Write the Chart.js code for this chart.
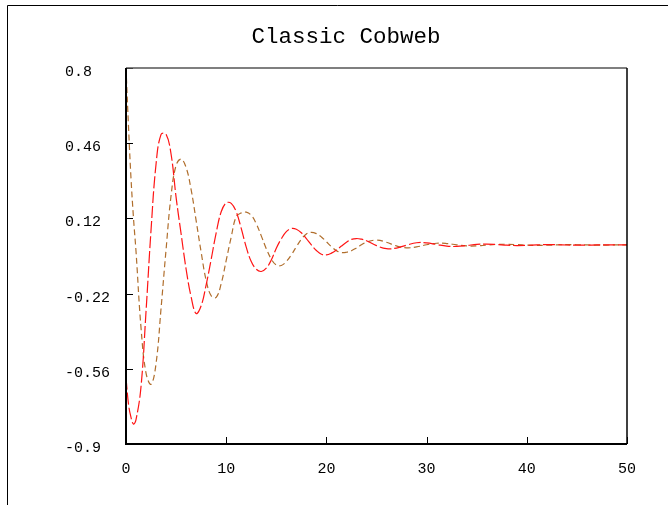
<!DOCTYPE html>
<html>
<head>
<meta charset="utf-8">
<title>Classic Cobweb</title>
<script src="https://cdn.jsdelivr.net/npm/chart.js@4.4.1/dist/chart.umd.min.js"></script>
<style>
  html, body { margin: 0; padding: 0; background: #fff; }
  #wrap { position: relative; width: 668px; height: 505px; }
</style>
</head>
<body>
<div id="wrap"><canvas id="cobweb" width="668" height="505"></canvas></div>
<script>
// time steps, finer at the start where both curves swing hardest
const steps = [0, 0.25, 0.5, 0.75, 1, 1.5, 2, 2.5, 3, 3.5, 4, 4.5, 5, 5.5, 6, 6.5, 7, 7.5, 8, 8.5,
  9, 9.5, 10, 10.5, 11, 11.5, 12, 12.5, 13, 13.5, 14, 14.5, 15, 15.5, 16, 16.5, 17, 17.5, 18, 18.5,
  19, 19.5, 20, 20.5, 21, 21.5, 22, 22.5, 23, 23.5, 24, 25, 26, 27, 28, 29, 30, 31, 32, 33, 34, 35,
  36, 37, 38, 39, 40, 41, 42, 43, 44, 45, 46, 47, 48, 49, 50];

// red, long dashes
const price = [-0.60, -0.72, -0.78, -0.81, -0.79, -0.64, -0.30, 0.068, 0.366, 0.50, 0.50, 0.41,
  0.215, 0.05, -0.11, -0.235, -0.31, -0.275, -0.18, -0.065, 0.055, 0.15, 0.19, 0.188, 0.15, 0.075,
  -0.01, -0.075, -0.11, -0.12, -0.105, -0.068, -0.015, 0.028, 0.06, 0.074, 0.071, 0.055, 0.029, 0.0,
  -0.025, -0.042, -0.045, -0.037, -0.023, -0.005, 0.012, 0.025, 0.029, 0.026, 0.019,
  -0.003, -0.017, -0.014, -0.001, 0.010, 0.0095, 0.002, -0.0055, -0.0066, -0.0026, 0.0024, 0.004,
  0.0019, -0.0012, -0.0027, -0.0017, 0.0003, 0.0016, 0.001, -0.0002, -0.001, -0.0008, 0.0, 0.0006,
  0.0005, 0.0];

// brown, short dashes
const quantity = [0.80, 0.535, 0.30, 0.12, -0.03, -0.375, -0.58, -0.63, -0.536, -0.286, -0.02, 0.224,
  0.36, 0.388, 0.35, 0.25, 0.11, -0.033, -0.16, -0.23, -0.237, -0.175, -0.07, 0.036, 0.128, 0.145,
  0.148, 0.134, 0.096, 0.041, -0.017, -0.064, -0.091, -0.093, -0.075, -0.045, -0.008, 0.026, 0.050,
  0.057, 0.051, 0.036, 0.0145, -0.008, -0.026, -0.0345, -0.033, -0.026, -0.0134, 0.0004, 0.0127,
  0.022, 0.012, -0.0045, -0.013, -0.0088, 0.001, 0.0077, 0.0063, 0.0005, -0.0044, -0.0044, -0.0008,
  0.0022, 0.003, 0.0015, -0.0008, -0.0018, -0.0012, 0.0003, 0.0011, 0.0009, 0.0, -0.0006, -0.0005,
  0.0001, 0.0003];

const xTicks = [0, 10, 20, 30, 40, 50];
const yTicks = [-0.9, -0.56, -0.22, 0.12, 0.46, 0.8];

const TICK_FONT = { family: 'Liberation Mono', size: 15 };

// page frame, plot box and inward tick marks
const framePlugin = {
  id: 'frame',
  beforeDraw(chart) {
    const ctx = chart.ctx;
    ctx.save();
    ctx.fillStyle = '#fff';
    ctx.fillRect(0, 0, chart.width, chart.height);
    ctx.strokeStyle = '#000';
    ctx.lineWidth = 1;
    ctx.beginPath();
    ctx.moveTo(7.5, chart.height);
    ctx.lineTo(7.5, 5.5);
    ctx.lineTo(chart.width, 5.5);
    ctx.stroke();
    ctx.restore();
  },
  afterDatasetsDraw(chart) {
    const { ctx, chartArea: a, scales } = chart;
    ctx.save();
    ctx.strokeStyle = '#000';
    ctx.lineWidth = 1;
    ctx.beginPath();
    yTicks.forEach(v => {
      const py = Math.round(scales.y.getPixelForValue(v)) + 0.5;
      ctx.moveTo(a.left, py);
      ctx.lineTo(a.left + 7, py);
    });
    xTicks.forEach(v => {
      const px = Math.round(scales.x.getPixelForValue(v)) + 0.5;
      ctx.moveTo(px, a.bottom);
      ctx.lineTo(px, a.bottom - 7);
    });
    ctx.stroke();

    ctx.strokeStyle = '#555';
    ctx.lineWidth = 1.5;
    ctx.beginPath();
    ctx.moveTo(a.left, a.top);
    ctx.lineTo(a.right, a.top);
    ctx.stroke();
    ctx.strokeStyle = '#000';
    ctx.beginPath();
    ctx.moveTo(a.right, a.top);
    ctx.lineTo(a.right, a.bottom);
    ctx.stroke();
    ctx.lineWidth = 2;
    ctx.beginPath();
    ctx.moveTo(a.left, a.top);
    ctx.lineTo(a.left, a.bottom);
    ctx.lineTo(a.right, a.bottom);
    ctx.stroke();
    ctx.restore();
  }
};

function toPoints(values) {
  return steps.map((t, i) => ({ x: t, y: values[i] }));
}

const chart = new Chart(document.getElementById('cobweb'), {
  type: 'line',
  data: {
    datasets: [
      {
        label: 'Price',
        data: toPoints(price),
        borderColor: '#ff1414',
        borderWidth: 1.2,
        borderDash: [12, 3],
        pointRadius: 0,
        tension: 0.4,
        fill: false
      },
      {
        label: 'Quantity',
        data: toPoints(quantity),
        borderColor: '#b06e2c',
        borderWidth: 1.2,
        borderDash: [6, 3.5],
        pointRadius: 0,
        tension: 0.4,
        fill: false
      }
    ]
  },
  options: {
    responsive: false,
    animation: false,
    layout: { padding: { left: 65, right: 41, top: 0, bottom: 0 } },
    plugins: {
      legend: { display: false },
      tooltip: { enabled: false },
      title: {
        display: true,
        text: 'Classic Cobweb',
        color: '#000',
        font: { family: 'Liberation Mono', size: 22.5, weight: 'normal' },
        padding: { top: 24, bottom: 17 }
      }
    },
    scales: {
      x: {
        type: 'linear',
        min: 0,
        max: 50,
        afterBuildTicks: s => { s.ticks = xTicks.map(v => ({ value: v })); },
        afterFit: s => { s.height = 61; },
        grid: { display: false },
        border: { display: false },
        ticks: {
          color: '#000',
          font: TICK_FONT,
          padding: 8,
          maxRotation: 0,
          autoSkip: false,
          callback: v => String(v)
        }
      },
      y: {
        type: 'linear',
        min: -0.9,
        max: 0.8,
        afterBuildTicks: s => { s.ticks = yTicks.map(v => ({ value: v })); },
        afterFit: s => { s.width = 61; },
        grid: { display: false },
        border: { display: false },
        ticks: {
          color: '#000',
          font: TICK_FONT,
          crossAlign: 'far',
          labelOffset: 4,
          autoSkip: false,
          callback: v => String(v)
        }
      }
    }
  },
  plugins: [framePlugin]
});
</script>
</body>
</html>
